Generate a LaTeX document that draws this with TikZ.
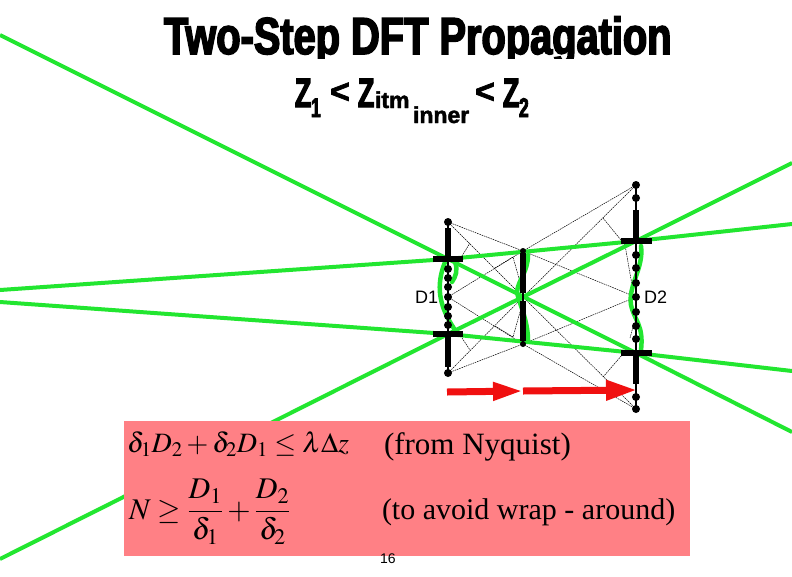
\documentclass[tikz,border=0pt]{standalone}
\usepackage{mathptmx}
\usepackage[no-math]{fontspec}
\setmainfont{Liberation Serif}
\setsansfont{Liberation Sans}
\newfontfamily\titlefont[FakeStretch=0.765,FakeBold=3]{Liberation Sans Bold}
\newfontfamily\subfont[FakeStretch=0.65,FakeBold=3]{Liberation Sans Bold}
\newfontfamily\indexfont[FakeBold=2]{Liberation Sans Bold}
\usepackage{amsmath,amssymb}
\usepackage{xcolor}
\usepackage{tikz}
\usetikzlibrary{arrows.meta}
\definecolor{raygreen}{RGB}{34,230,48}
\definecolor{boxred}{RGB}{255,128,133}
\definecolor{arrowred}{RGB}{240,16,16}
\tikzset{
  ray/.style={draw=raygreen,line width=4pt},
  wave/.style={draw=raygreen,line width=4.5pt,line cap=round},
  fan/.style={draw=black,line width=0.5pt,dash pattern=on 1.6pt off 0.8pt},
  plane/.style={draw=black,line width=1.5pt},
  solid bar/.style={draw=black,line width=6.5pt},
  stop/.style={draw=black,line width=6pt},
  dot/.style={circle,fill=black,inner sep=0pt,minimum size=8pt},
  redarrow/.style={draw=arrowred,line width=7pt},
  label/.style={inner sep=0pt,outer sep=0pt,anchor=base west},
}
\begin{document}
\begin{tikzpicture}[x=1pt,y=-1pt]
\path[use as bounding box] (0,0) rectangle (792,576);
\path[fill=white,draw=none] (0,0) rectangle (792,576);
% heading
\begin{scope}
\clip (0,0) rectangle (792,58);
\node[label,font=\titlefont\fontsize{52}{56}\selectfont] (title) at (164,54) {Two-Step DFT Propagation};
\end{scope}
\node[label,font=\subfont\fontsize{41}{44}\selectfont] (zone) at (295,107) {Z};
\node[label,font=\subfont\fontsize{27}{30}\selectfont] (subone) at (311,117) {1};
\node[label,font=\indexfont\fontsize{34}{38}\selectfont] (lessa) at (330,103) {<};
\node[label,font=\subfont\fontsize{41}{44}\selectfont] (zitm) at (358,107) {Z};
\node[label,font=\indexfont\fontsize{23}{26}\selectfont] (subitm) at (375,108) {itm};
\node[label,font=\indexfont\fontsize{23}{26}\selectfont] (subinner) at (413,123) {inner};
\node[label,font=\indexfont\fontsize{34}{38}\selectfont] (lessb) at (475,103) {<};
\node[label,font=\subfont\fontsize{41}{44}\selectfont] (ztwo) at (503,107) {Z};
\node[label,font=\subfont\fontsize{27}{30}\selectfont] (subtwo) at (519,117) {2};
% points of the three planes
\coordinate (d1top) at (448,222);
\coordinate (d1hi) at (448,259);
\coordinate (d1mid) at (448,297);
\coordinate (d1lo) at (448,334);
\coordinate (d1bot) at (448,373);
\coordinate (mtop) at (523,251);
\coordinate (mmid) at (523,297);
\coordinate (mbot) at (523,344);
\coordinate (d2top) at (636,185);
\coordinate (d2hi) at (636,241);
\coordinate (d2mid) at (636,297);
\coordinate (d2lo) at (636,353);
\coordinate (d2bot) at (636,409);
% free ends of the rays
\coordinate (raya) at (0,35);
\coordinate (rayaend) at (792,432);
\coordinate (rayb) at (0,559);
\coordinate (raybend) at (792,163);
\coordinate (rayc) at (0,290);
\coordinate (raycend) at (792,224);
\coordinate (rayd) at (0,302);
\coordinate (raydend) at (792,371);
% fan of rays
\foreach \a/\b in {d1top/mtop,d1top/mmid,d1bot/mbot,d1bot/mmid,d1mid/mtop,d1mid/mbot,
  d2top/mtop,d2top/mmid,d2bot/mbot,d2bot/mmid,d2mid/mtop,d2mid/mbot}
  \draw[fan] (\a) -- (\b);
\draw[fan] (462,256) -- (470,243);
\draw[fan] (462,338) -- (470,350);
\draw[fan] (495,268) -- (513,257) -- (520,282);
\draw[fan] (495,326) -- (513,337) -- (520,312);
\draw[fan] (603,218) -- (625,245) -- (632,285);
\draw[fan] (603,377) -- (622,355);
\draw[fan] (630,338) -- (633,327);
% green rays
\draw[ray] (raya) -- (d1hi) -- (d2lo) -- (rayaend);
\draw[ray] (rayb) -- (d1lo) -- (d2hi) -- (raybend);
\draw[ray] (rayc) -- (d1hi) -- (d2hi) -- (raycend);
\draw[ray] (rayd) -- (d1lo) -- (d2lo) -- (raydend);
% green wave fronts
\draw[wave] (445,262) .. controls (436,285) and (438,305) .. (455,330);
\draw[wave] (455,262) .. controls (458,270) and (456,276) .. (452,282);
\draw[wave] (528,255) .. controls (528,272) and (518,280) .. (517,292) .. controls (518,300) and (528,320) .. (528,340);
\draw[wave] (641,246) .. controls (644,268) and (628,285) .. (631,305) .. controls (634,320) and (644,325) .. (641,350);
% planes
\draw[plane] (d1top) -- (d1bot);
\draw[plane] (mtop) -- (mbot);
\draw[plane] (d2top) -- (d2bot);
\draw[solid bar] (448,228) -- (d1hi);
\draw[solid bar] (d1lo) -- (448,367);
\draw[solid bar] (523,253) -- (523,293);
\draw[solid bar] (523,301) -- (523,341);
\draw[solid bar] (636,210) -- (d2hi);
\draw[solid bar] (d2lo) -- (636,384);
\foreach \y in {269,278,287,297,307,316,325}
  \node[dot] (done\y) at (448,\y) {};
\foreach \y in {255,268,283,297,312,326,339}
  \node[dot] (dtwo\y) at (636,\y) {};
\foreach \y in {185,198,397,409}
  \node[dot] (dtwoend\y) at (636,\y) {};
\foreach \c in {d1top,d1bot}
  \node[dot] at (\c) {};
\foreach \c in {mtop,mbot}
  \node[dot,minimum size=6pt] at (\c) {};
\draw[stop] (433,259) -- (463,259);
\draw[stop] (433,334) -- (463,334);
\draw[stop] (621,241) -- (652,241);
\draw[stop] (621,353) -- (652,353);
\node[label,font=\sffamily\fontsize{18}{20}\selectfont] (dlabela) at (415,303) {D1};
\node[label,font=\sffamily\fontsize{18}{20}\selectfont] (dlabelb) at (644,303) {D2};
% step arrows
\coordinate (stepa) at (447,392);
\coordinate (stepb) at (523,391);
\coordinate (stepc) at (637,390);
\draw[redarrow,-{Triangle[length=30pt,width=17pt]}] (stepa) -- (stepb);
\draw[redarrow,-{Triangle[length=31pt,width=19pt]}] (stepb) -- (stepc);
% sampling conditions
\path[fill=boxred,draw=none] (124,421) rectangle (690,556);
\node[label,font=\fontsize{28}{33}\selectfont] (nyquist) at (127,452) {$\delta_1 D_2+\delta_2 D_1\le\lambda\Delta z$};
\node[label,font=\fontsize{31}{36}\selectfont] (fromnyq) at (384,454) {(from Nyquist)};
\node[label,font=\fontsize{30}{35}\selectfont] (wrap) at (129,519) {$N\ge\dfrac{D_1}{\delta_1}+\dfrac{D_2}{\delta_2}$};
\node[label,font=\fontsize{30}{36}\selectfont] (wrapnote) at (382,519) {(to avoid wrap - around)};
\node[label,font=\sffamily\fontsize{14}{16}\selectfont] (pageno) at (380,563) {16};
\end{tikzpicture}
\end{document}
